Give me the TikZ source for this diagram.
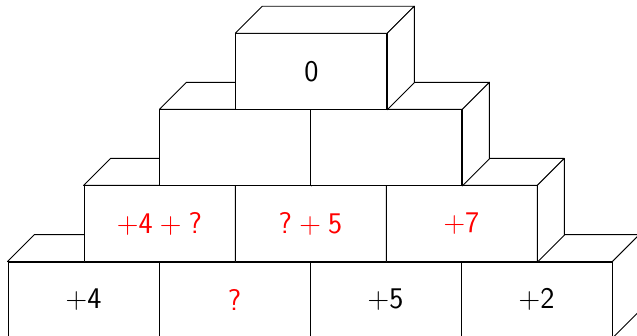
\documentclass[tikz,border=0pt]{standalone}
\usepackage{tikz}
\begin{document}
\begin{tikzpicture}[x=1pt,y=-1pt,
  edge/.style={draw=black,line width=0.9pt,line join=round},
  face/.style={edge,fill=white,rectangle,minimum width=151pt,minimum height=75.67pt,inner sep=0pt,
    font=\sffamily\fontsize{30}{34}\selectfont},
  ans/.style={text=red}]
\useasboundingbox (0,0) rectangle (637,335);
\clip (0,0) rectangle (637,335);
\newcommand\sides[1]{%
  \path[edge,fill=white] (#1.north west) -- ++(27,-27) -- ([shift={(27,-27)}]#1.north east) -- (#1.north east) -- cycle;
  \path[edge,fill=white] (#1.north east) -- ++(27,-27) -- ([shift={(27,-27)}]#1.south east) -- (#1.south east) -- cycle;}
\newcommand\pl{{\rmfamily+}}
\newcommand\spl{\hspace{0.24em}{\rmfamily+}\hspace{0.24em}}
% bottom row
\node[face] (a1) at (83.5,299.83) {\pl4}; \sides{a1}
\node[face,ans] (a2) at (234.5,299.83) {?}; \sides{a2}
\node[face] (a3) at (385.5,299.83) {\pl5}; \sides{a3}
\node[face] (a4) at (536.5,299.83) {\pl2}; \sides{a4}
% second row
\path (a1.north east) ++(0,-37.83) node[face,ans] (b1) {\pl4\spl?}; \sides{b1}
\path (a2.north east) ++(0,-37.83) node[face,ans] (b2) {?\spl5}; \sides{b2}
\path (a3.north east) ++(0,-37.83) node[face,ans] (b3) {\pl7}; \sides{b3}
% third row
\path (b1.north east) ++(0,-37.83) node[face] (c1) {}; \sides{c1}
\path (b2.north east) ++(0,-37.83) node[face] (c2) {}; \sides{c2}
% top
\path (c1.north east) ++(0,-37.83) node[face] (d1) {0}; \sides{d1}
\end{tikzpicture}
\end{document}
